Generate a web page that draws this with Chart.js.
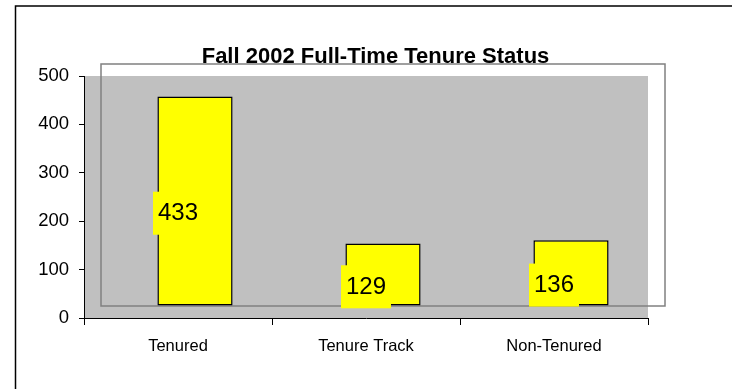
<!DOCTYPE html>
<html>
<head>
<meta charset="utf-8">
<title>Fall 2002 Full-Time Tenure Status</title>
<script src="https://cdn.jsdelivr.net/npm/chart.js@4/dist/chart.umd.min.js"></script>
<style>
  html, body { margin: 0; padding: 0; background: #fff; }
  #wrap { width: 732px; height: 389px; }
</style>
</head>
<body>
<div id="wrap"><canvas id="c" width="732" height="389"></canvas></div>
<script>
// Chart content
const TITLE = 'Fall 2002 Full-Time Tenure Status';
const CATEGORIES = ['Tenured', 'Tenure Track', 'Non-Tenured'];
const HEADCOUNT = [433, 129, 136];
const Y_TICKS = [0, 100, 200, 300, 400, 500];

const FONT = '"Liberation Sans", Arial, Helvetica, sans-serif';
// 3-D depth of the columns and back wall (pixels)
const DEPTH_X = 17;
const DEPTH_Y = 12;

const decorPlugin = {
  id: 'decor',
  beforeDraw(chart) {
    const { ctx, chartArea: a } = chart;
    ctx.save();
    ctx.fillStyle = '#ffffff';
    ctx.fillRect(0, 0, chart.width, chart.height);
    // outer frame
    ctx.strokeStyle = '#000';
    ctx.lineWidth = 1.5;
    ctx.beginPath();
    ctx.moveTo(15.5, chart.height + 2);
    ctx.lineTo(15.5, 6);
    ctx.lineTo(chart.width + 2, 6);
    ctx.stroke();
    // plot area
    ctx.fillStyle = '#C0C0C0';
    ctx.fillRect(a.left, a.top, a.right - a.left, a.bottom - a.top);
    // back wall outline
    ctx.strokeStyle = '#808080';
    ctx.lineWidth = 1.5;
    ctx.strokeRect(a.left + DEPTH_X, a.top - DEPTH_Y, a.right - a.left, a.bottom - a.top);
    ctx.restore();
  },
  beforeDatasetDraw(chart) {
    chart.ctx.save();
    chart.ctx.translate(DEPTH_X, -DEPTH_Y);
  },
  afterDatasetDraw(chart) {
    chart.ctx.restore();
  },
  afterDatasetsDraw(chart) {
    const { ctx, scales: { x, y } } = chart;
    ctx.save();
    ctx.font = '24px ' + FONT;
    ctx.textAlign = 'center';
    ctx.textBaseline = 'middle';
    HEADCOUNT.forEach((v, i) => {
      const cx = x.getPixelForValue(i);
      const cy = y.getPixelForValue(v / 2);
      ctx.fillStyle = '#FFFF00';
      ctx.fillRect(cx - 25, cy - 21.5, 50, 43);
      ctx.fillStyle = '#000';
      ctx.fillText(String(v), cx, cy + 0.5);
    });
    ctx.restore();
  },
  afterDraw(chart) {
    const { ctx } = chart;
    ctx.save();
    ctx.font = 'bold 22px ' + FONT;
    ctx.fillStyle = '#000';
    ctx.textAlign = 'center';
    ctx.textBaseline = 'alphabetic';
    ctx.fillText(TITLE, 375.5, 62.5);
    ctx.restore();
  }
};

new Chart(document.getElementById('c'), {
  type: 'bar',
  data: {
    labels: CATEGORIES,
    datasets: [{
      data: HEADCOUNT,
      backgroundColor: '#FFFF00',
      borderColor: '#000',
      borderWidth: 1.5,
      borderSkipped: false,
      barPercentage: 0.4,
      categoryPercentage: 1.0,
      clip: false
    }]
  },
  options: {
    responsive: false,
    animation: false,
    devicePixelRatio: 1,
    layout: { padding: { left: 0, right: 84, top: 76, bottom: 0 } },
    plugins: {
      legend: { display: false },
      title: { display: false },
      tooltip: { enabled: false }
    },
    scales: {
      x: {
        offset: true,
        grid: { offset: true, drawOnChartArea: false, drawTicks: true, tickLength: 7, color: '#000' },
        border: { display: true, color: '#000', width: 1 },
        ticks: { color: '#000', font: { family: FONT, size: 16.5 }, padding: 12, maxRotation: 0, autoSkip: false },
        afterFit(s) { s.height = 71; }
      },
      y: {
        min: Y_TICKS[0],
        max: Y_TICKS[Y_TICKS.length - 1],
        afterBuildTicks(s) { s.ticks = Y_TICKS.map(v => ({ value: v })); },
        grid: { drawOnChartArea: false, drawTicks: true, tickLength: 5, color: '#000' },
        border: { display: true, color: '#000', width: 1 },
        ticks: { color: '#000', font: { family: FONT, size: 18.5 }, padding: 10 },
        afterFit(s) { s.width = 84; }
      }
    }
  },
  plugins: [decorPlugin]
});
</script>
</body>
</html>
